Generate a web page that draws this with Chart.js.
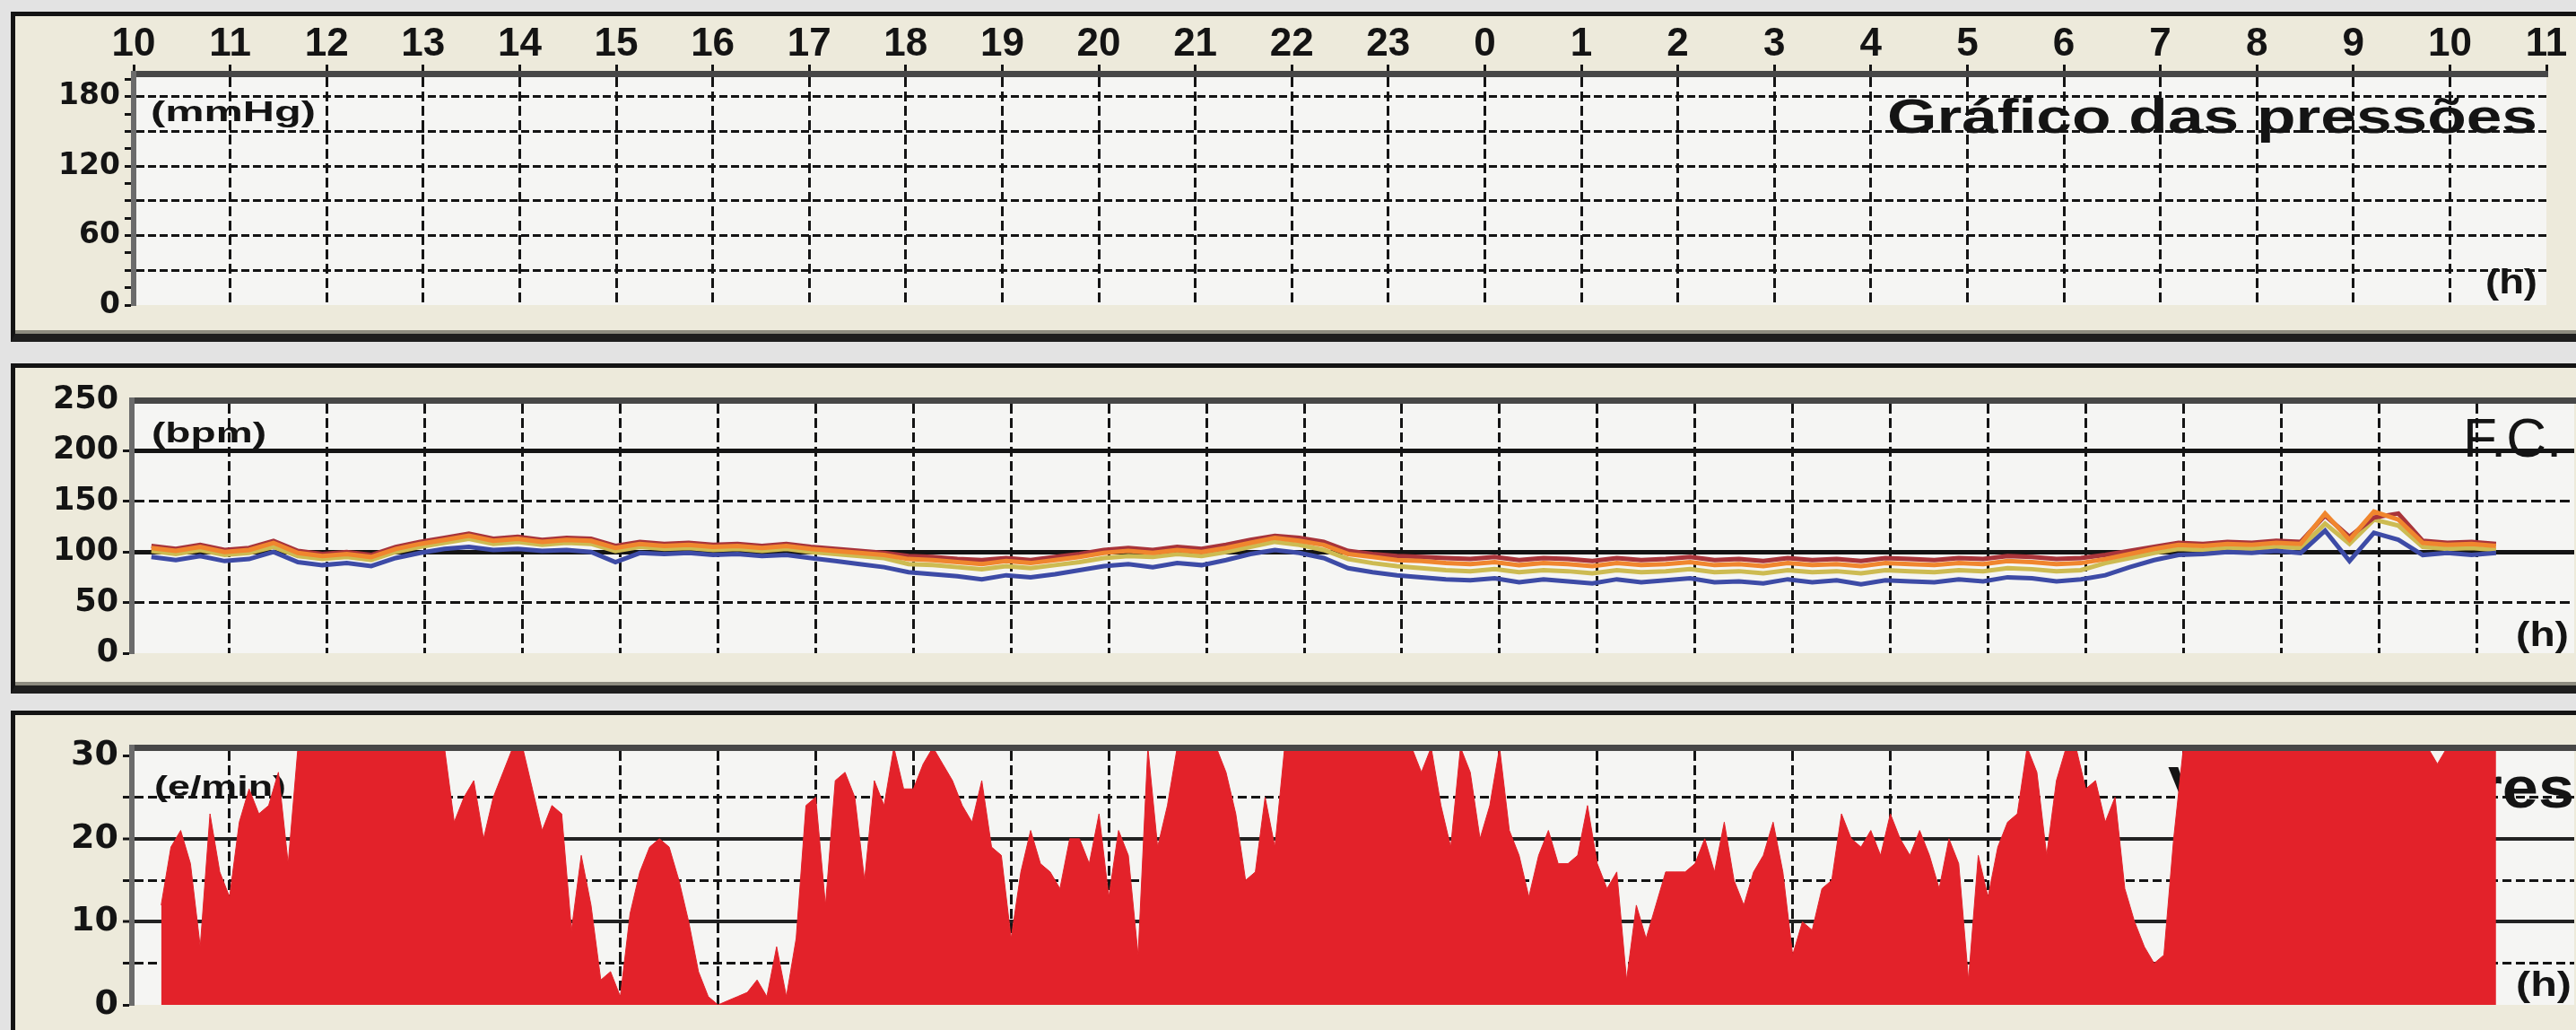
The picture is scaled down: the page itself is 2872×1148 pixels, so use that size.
<!DOCTYPE html>
<html>
<head>
<meta charset="utf-8">
<title>Holter 24h</title>
<script src="https://cdn.jsdelivr.net/npm/chart.js@4.4.1/dist/chart.umd.min.js"></script>
<style>
  html, body { margin: 0; padding: 0; }
  body { width: 2872px; height: 1148px; overflow: hidden; background: #e3e3e3; position: relative; }
  .panel { position: absolute; left: 12px; width: 2900px; box-sizing: border-box;
           background: #edeadb; border-left: 5px solid #141414; border-top: 5px solid #141414;
           border-bottom: 9px solid #1e1e1e; box-shadow: inset 0 -4px 0 #8d8b7f; }
  #p1 { top: 13px; height: 368px; }
  #p2 { top: 405px; height: 368px; }
  #p3 { top: 792px; height: 380px; }
  canvas { position: absolute; left: 0; }
  #c1 { top: 15px; }
  #c2 { top: 410px; }
  #c3 { top: 795px; }
</style>
</head>
<body>
<div class="panel" id="p1"></div>
<div class="panel" id="p2"></div>
<div class="panel" id="p3"></div>
<canvas id="c1" width="2872" height="358"></canvas>
<canvas id="c2" width="2872" height="362"></canvas>
<canvas id="c3" width="2872" height="353"></canvas>
<script>
// hours shown on the top axis (10h -> 11h next day)
const hourLabels = ['10','11','12','13','14','15','16','17','18','19','20','21','22','23',
                    '0','1','2','3','4','5','6','7','8','9','10','11'];
const pressureTicks = [0, 60, 120, 180];
const hrTicks = [0, 50, 100, 150, 200, 250];
const vesTicks = [0, 10, 20, 30];

// heart rate (bpm), one sample every 15 min starting 10:12
const hrStart = 0.2;
const hrStep = 0.25;
const hrBlue = [95,92,96,91,93,100,90,87,89,86,94,99,103,
                105,102,103,101,102,100,90,99,98,99,97,98,96,97,94,91,88,85,
                80,78,76,73,77,75,78,82,86,88,85,89,87,92,98,102,99,94,84,80,77,
                75,73,72,74,70,73,71,69,73,70,72,74,70,71,69,73,70,72,68,72,71,70,73,71,75,74,71,73,
                77,85,92,97,98,100,99,101,99,121,91,119,112,97,99,97,99];
const hrOrange = [104,101,105,100,102,109,99,96,98,95,103,108,112,
                  116,111,113,110,112,111,104,108,106,107,105,106,104,106,103,101,99,97,
                  93,92,90,88,91,89,92,95,99,101,99,102,100,104,109,114,111,107,98,95,92,
                  91,89,88,90,87,89,88,86,89,87,88,90,87,88,86,89,87,88,86,89,88,87,89,88,91,90,88,89,
                  93,98,103,107,106,108,107,109,108,138,112,140,132,109,107,108,106];
const hrRed = [106,103,107,102,104,111,101,98,100,97,105,110,114,
               118,113,115,112,114,113,106,110,108,109,107,108,106,108,105,103,101,99,
               96,95,93,92,94,92,95,98,102,104,102,105,103,107,112,116,114,110,101,98,96,
               95,94,93,95,92,94,93,91,94,92,93,95,92,93,91,94,92,93,91,94,93,92,94,93,96,95,93,94,
               97,101,105,109,108,110,109,111,110,136,115,134,138,111,109,110,108];
const hrYellow = [101,98,102,97,99,105,96,93,95,92,100,105,109,
                  113,108,110,107,109,108,101,105,103,104,102,103,101,103,100,98,96,94,
                  88,87,85,83,86,84,87,90,94,96,95,98,96,100,105,110,107,102,93,89,86,
                  84,82,81,83,80,82,81,79,82,80,81,83,80,81,79,82,80,81,79,82,81,80,82,81,84,83,81,82,
                  89,94,99,103,102,104,103,105,104,128,108,132,126,105,103,104,102];

// ectopic beats (e/min), one sample every 6 min starting 10:18 (31 = off the top)
const vesStart = 0.3;
const vesStep = 0.1;
const vesValues = [12,19,21,17,7,23,16,13,22,26,23,24,28,17,
  31,31,31,31,31,31,31,31,31,31,31,31,31,31,31,31,
  22,25,27,20,25,28,31,31,26,21,24,23,9,18,12,3,4,1,
  11,16,19,20,19,15,10,4,1,0,0.5,1,1.5,3,1,7,1,8,
  24,25,12,27,28,25,15,27,24,31,26,26,29,31,29,27,24,22,27,19,18,
  8,16,21,17,16,14,20,20,17,23,13,21,18,6,31,19,24,
  31,31,31,31,31,28,23,15,16,25,19,
  31,31,31,31,31,31,31,31,31,31,31,31,31,31,
  28,31,24,19,31,28,20,24,31,21,18,13,18,21,17,17,18,24,17,14,16,3,12,8,12,
  16,16,16,17,20,16,22,15,12,16,18,22,16,
  6,10,9,14,15,23,20,19,21,18,23,20,18,21,18,14,20,17,3,18,13,19,22,23,
  31,28,18,27,31,31,26,27,22,25,14,10,7,5,6,20,
  31,31,31,31,31,31,31,31,31,31,31,31,31,31,31,31,31,31,31,31,31,31,31,31,31,31,
  29,31,31,31,31,31,31];

const toPoints = (vals, start, step) => vals.map((v, i) => ({ x: start + i * step, y: v }));

const clear = 'rgba(0,0,0,0)';
const ink = '#141414';

// light plot background
const plotBackground = {
  id: 'plotBackground',
  beforeDraw(chart) {
    const { ctx, chartArea: a } = chart;
    ctx.save();
    ctx.fillStyle = '#f5f5f3';
    ctx.fillRect(a.left, a.top, a.right - a.left, a.bottom - a.top);
    ctx.restore();
  }
};

// unit labels and titles, drawn under the data like the original
const panelLabels = {
  id: 'panelLabels',
  beforeDatasetsDraw(chart, args, opts) {
    const ctx = chart.ctx;
    (opts.items || []).forEach(it => {
      ctx.save();
      ctx.font = it.font;
      ctx.fillStyle = ink;
      ctx.textBaseline = 'alphabetic';
      const w = ctx.measureText(it.text).width;
      const sx = it.width ? it.width / w : 1;
      ctx.translate(it.x, it.y);
      ctx.scale(sx, 1);
      ctx.fillText(it.text, 0, 0);
      ctx.restore();
    });
  }
};

function yAxis(max, step, labels, size, width, gridFor) {
  return {
    type: 'linear', min: 0, max: max, bounds: 'data',
    afterFit(s) { s.width = width; },
    ticks: {
      stepSize: step, autoSkip: false, color: ink, padding: 5,
      font: { family: 'DejaVu Sans', size: size, weight: 'bold', lineHeight: 1 },
      callback: v => labels.includes(v) ? String(v) : ''
    },
    grid: {
      color: c => gridFor(c.tick.value).color,
      lineWidth: c => gridFor(c.tick.value).width,
      tickColor: c => (c.tick.value === max ? clear : ink),
      tickLength: 10, tickWidth: 3
    },
    border: { display: true, color: '#6b6b6b', width: 6, z: 1,
              dash: c => gridFor(c.tick.value).dash }
  };
}

function xAxis(height, showLabels) {
  return {
    type: 'linear', position: 'top', min: 0, max: 25,
    afterFit(s) { s.height = height; },
    ticks: {
      display: showLabels, stepSize: 1, autoSkip: false, maxRotation: 0, padding: 0,
      color: ink, font: { family: 'Liberation Sans', size: 44, weight: 'bold', lineHeight: 1 },
      callback: v => hourLabels[v]
    },
    grid: {
      color: c => (c.tick.value > 0 && c.tick.value < 25) ? ink : clear,
      lineWidth: 3, drawTicks: showLabels, tickColor: ink, tickLength: 10, tickWidth: 3
    },
    border: { display: true, color: '#474747', width: 7, z: 1, dash: [11, 5] }
  };
}

const base = {
  responsive: false, animation: false, devicePixelRatio: 1,
  elements: { point: { radius: 0 }, line: { tension: 0 } }
};

// Gráfico das pressões (empty)
new Chart(document.getElementById('c1'), {
  type: 'line',
  data: { datasets: [] },
  plugins: [plotBackground, panelLabels],
  options: Object.assign({}, base, {
    layout: { padding: { left: 0, right: 33, top: 0, bottom: 33 } },
    plugins: {
      legend: { display: false }, tooltip: { enabled: false },
      panelLabels: { items: [
        { text: '(mmHg)', x: 168, y: 120, font: 'bold 31px "Liberation Sans"', width: 184 },
        { text: 'Gráfico das pressões', x: 2104, y: 133, font: 'bold 54px "Liberation Sans"', width: 725 },
        { text: '(h)', x: 2771, y: 312, font: 'bold 38px "Liberation Sans"', width: 58 }
      ] }
    },
    scales: {
      x: xAxis(67, true),
      y: yAxis(200, 15, pressureTicks, 33, 149, v => (v > 0 && v < 200 && v % 30 === 0)
        ? { color: ink, width: 3, dash: [9, 4] } : { color: clear, width: 1, dash: [] })
    }
  })
});

// F.C.
new Chart(document.getElementById('c2'), {
  type: 'line',
  data: { datasets: [
    { data: toPoints(hrBlue, hrStart, hrStep), borderColor: '#3d4ba6', borderWidth: 5 },
    { data: toPoints(hrOrange, hrStart, hrStep), borderColor: '#f0862e', borderWidth: 5 },
    { data: toPoints(hrRed, hrStart, hrStep), borderColor: '#a8343a', borderWidth: 5 },
    { data: toPoints(hrYellow, hrStart, hrStep), borderColor: '#cdbb52', borderWidth: 5 }
  ] },
  plugins: [plotBackground, panelLabels],
  options: Object.assign({}, base, {
    layout: { padding: { left: 0, right: 2, top: 0, bottom: 44 } },
    plugins: {
      legend: { display: false }, tooltip: { enabled: false },
      panelLabels: { items: [
        { text: '(bpm)', x: 169, y: 83, font: 'bold 31px "Liberation Sans"', width: 128 },
        { text: 'F.C.', x: 2746, y: 99, font: '62px "Liberation Sans"' },
        { text: '(h)', x: 2805, y: 310, font: 'bold 38px "Liberation Sans"', width: 59 }
      ] }
    },
    scales: {
      x: xAxis(36, false),
      y: yAxis(250, 50, hrTicks, 35, 147, v => (v === 100 || v === 200)
        ? { color: ink, width: 5, dash: [] }
        : (v === 50 || v === 150) ? { color: ink, width: 3, dash: [11, 5] } : { color: clear, width: 1, dash: [] })
    }
  })
});

// extrassístoles por minuto
new Chart(document.getElementById('c3'), {
  type: 'line',
  data: { datasets: [
    { data: toPoints(vesValues, vesStart, vesStep), borderColor: '#e3222a', borderWidth: 1,
      backgroundColor: '#e3222a', fill: 'origin' }
  ] },
  plugins: [plotBackground, panelLabels],
  options: Object.assign({}, base, {
    layout: { padding: { left: 0, right: 2, top: 0, bottom: 28 } },
    plugins: {
      legend: { display: false }, tooltip: { enabled: false },
      panelLabels: { items: [
        { text: '(e/min)', x: 172, y: 92, font: 'bold 31px "Liberation Sans"', width: 147 },
        { text: 'Ventriculares', x: 2417, y: 105, font: 'bold 64px "Liberation Sans"', width: 453 },
        { text: '(h)', x: 2805, y: 315, font: 'bold 38px "Liberation Sans"', width: 62 }
      ] }
    },
    scales: {
      x: xAxis(38, false),
      y: yAxis(31, 5, vesTicks, 38, 147, v => (v === 10 || v === 20)
        ? { color: '#222', width: 4, dash: [] }
        : (v === 5 || v === 15 || v === 25) ? { color: ink, width: 3, dash: [10, 5] } : { color: clear, width: 1, dash: [] })
    }
  })
});
</script>
</body>
</html>
